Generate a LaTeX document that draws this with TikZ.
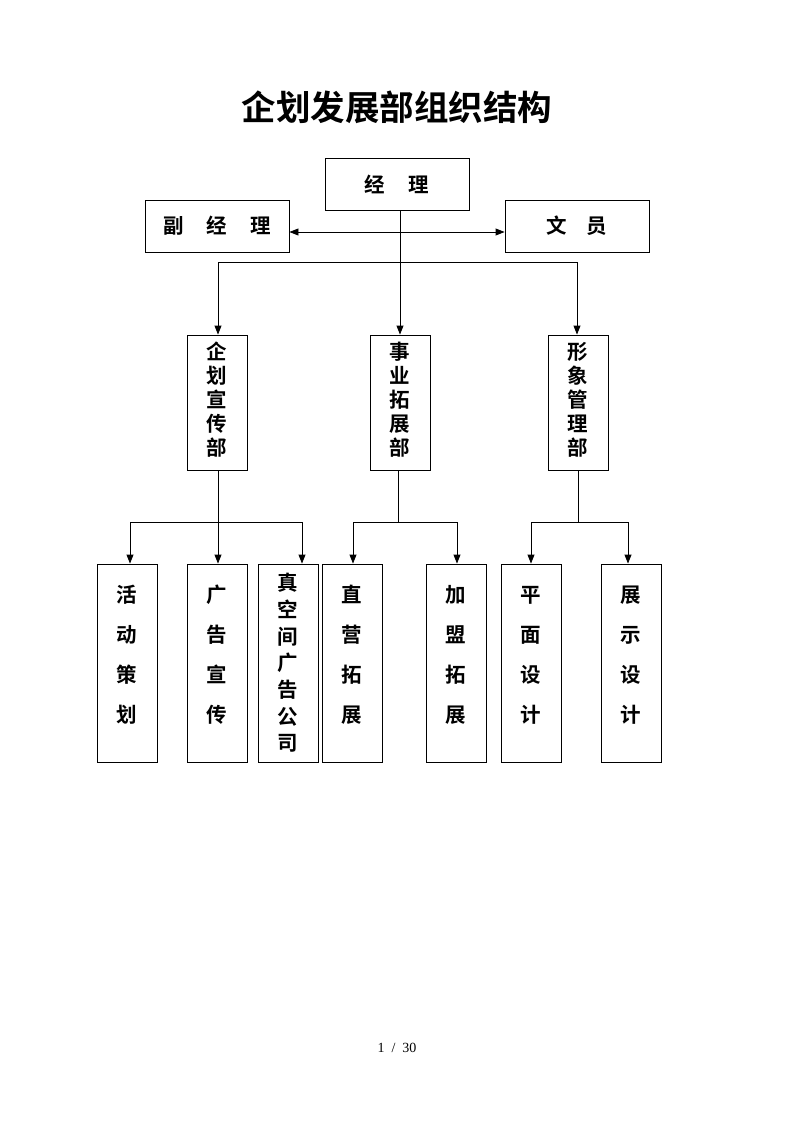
\documentclass[tikz,border=0pt]{standalone}
\usepackage{fontspec}
\setmainfont{Liberation Serif}
\newfontfamily\cjk{Noto Sans CJK SC}[BoldFont={Noto Sans CJK SC Bold}]
\usetikzlibrary{arrows.meta}
\begin{document}
\begin{tikzpicture}[x=1pt,y=-1pt,
  box/.style={draw, line width=0.9pt, inner sep=0pt},
  hbox/.style={box, minimum width=144pt, minimum height=52pt, font=\cjk\bfseries\fontsize{20.5}{24}\selectfont},
  mbox/.style={box, minimum width=60pt, minimum height=135pt},
  lbox/.style={box, minimum width=60pt, minimum height=198pt},
  vtxt/.style={align=center, inner sep=0pt, font=\cjk\bfseries\fontsize{20.5}{24}\selectfont},
  vtxtb/.style={align=center, inner sep=0pt, font=\cjk\bfseries\fontsize{20.5}{40}\selectfont},
  vtxtc/.style={align=center, inner sep=0pt, font=\cjk\bfseries\fontsize{20.5}{26.7}\selectfont},
  ln/.style={line width=0.9pt},
  arr/.style={ln, -{Triangle[length=9pt,width=7pt]}},
  darr/.style={ln, {Triangle[length=9pt,width=7pt]}-{Triangle[length=9pt,width=7pt]}}]
\useasboundingbox (0,0) rectangle (793,1122);
\node[font=\cjk\bfseries\fontsize{34.5}{40}\selectfont] (title) at (397,107) {企划发展部组织结构};
% top level
\node[hbox] (jl) at (397,184) {经\hspace{24pt}理};
\node[hbox] (fjl) at (217,226) {副\hspace{23pt}经\hspace{23pt}理};
\node[hbox] (wy) at (577,226) {文\hspace{20pt}员};
% middle
\node[mbox] (qh) at (217,402.5) {};
\node[vtxt] (qht) at (217,400) {企\\划\\宣\\传\\部};
\node[mbox] (sy) at (400,402.5) {};
\node[vtxt] (syt) at (400,400) {事\\业\\拓\\展\\部};
\node[mbox] (xx) at (578,402.5) {};
\node[vtxt] (xxt) at (578,400) {形\\象\\管\\理\\部};
% bottom
\node[lbox] (hd) at (127,663) {};
\node[vtxtb] (hdt) at (127,655) {活\\动\\策\\划};
\node[lbox] (gg) at (217,663) {};
\node[vtxtb] (ggt) at (217,655) {广\\告\\宣\\传};
\node[lbox] (zk) at (288,663) {};
\node[vtxtc] (zkt) at (288,663) {真\\空\\间\\广\\告\\公\\司};
\node[lbox] (zy) at (352,663) {};
\node[vtxtb] (zyt) at (352,655) {直\\营\\拓\\展};
\node[lbox] (jm) at (456,663) {};
\node[vtxtb] (jmt) at (456,655) {加\\盟\\拓\\展};
\node[lbox] (pm) at (531,663) {};
\node[vtxtb] (pmt) at (531,655) {平\\面\\设\\计};
\node[lbox] (zs) at (631,663) {};
\node[vtxtb] (zst) at (631,655) {展\\示\\设\\计};
% footer
\node[font=\fontsize{14}{16}\selectfont] (pg) at (397,1048) {1\hspace{7pt}/\hspace{7pt}30};
% connectors top
\draw[darr] (fjl.east |- 0,232) -- (wy.west |- 0,232);
\draw[arr] (jl.south -| sy.north) -- (sy.north);
\coordinate (h1) at (218,262);
\coordinate (h2) at (577,262);
\draw[ln] (h1) -- (h2);
\draw[arr] (h1) -- (h1 |- qh.north);
\draw[arr] (h2) -- (h2 |- xx.north);
% bottom group 1
\coordinate (a1) at (130,522);
\coordinate (a3) at (302,522);
\draw[ln] (a1) -- (a3);
\draw[arr] (a1) -- (a1 |- hd.north);
\draw[arr] (qh.south -| 218,0) -- (218,0 |- gg.north);
\draw[arr] (a3) -- (a3 |- zk.north);
% bottom group 2
\coordinate (b1) at (353,522);
\coordinate (b2) at (457,522);
\coordinate (b0) at (398,522);
\draw[ln] (sy.south -| b0) -- (b0);
\draw[ln] (b1) -- (b2);
\draw[arr] (b1) -- (b1 |- zy.north);
\draw[arr] (b2) -- (b2 |- jm.north);
% bottom group 3
\coordinate (c1) at (531,522);
\coordinate (c2) at (628,522);
\coordinate (c0) at (578,522);
\draw[ln] (xx.south -| c0) -- (c0);
\draw[ln] (c1) -- (c2);
\draw[arr] (c1) -- (c1 |- pm.north);
\draw[arr] (c2) -- (c2 |- zs.north);
\end{tikzpicture}
\end{document}
